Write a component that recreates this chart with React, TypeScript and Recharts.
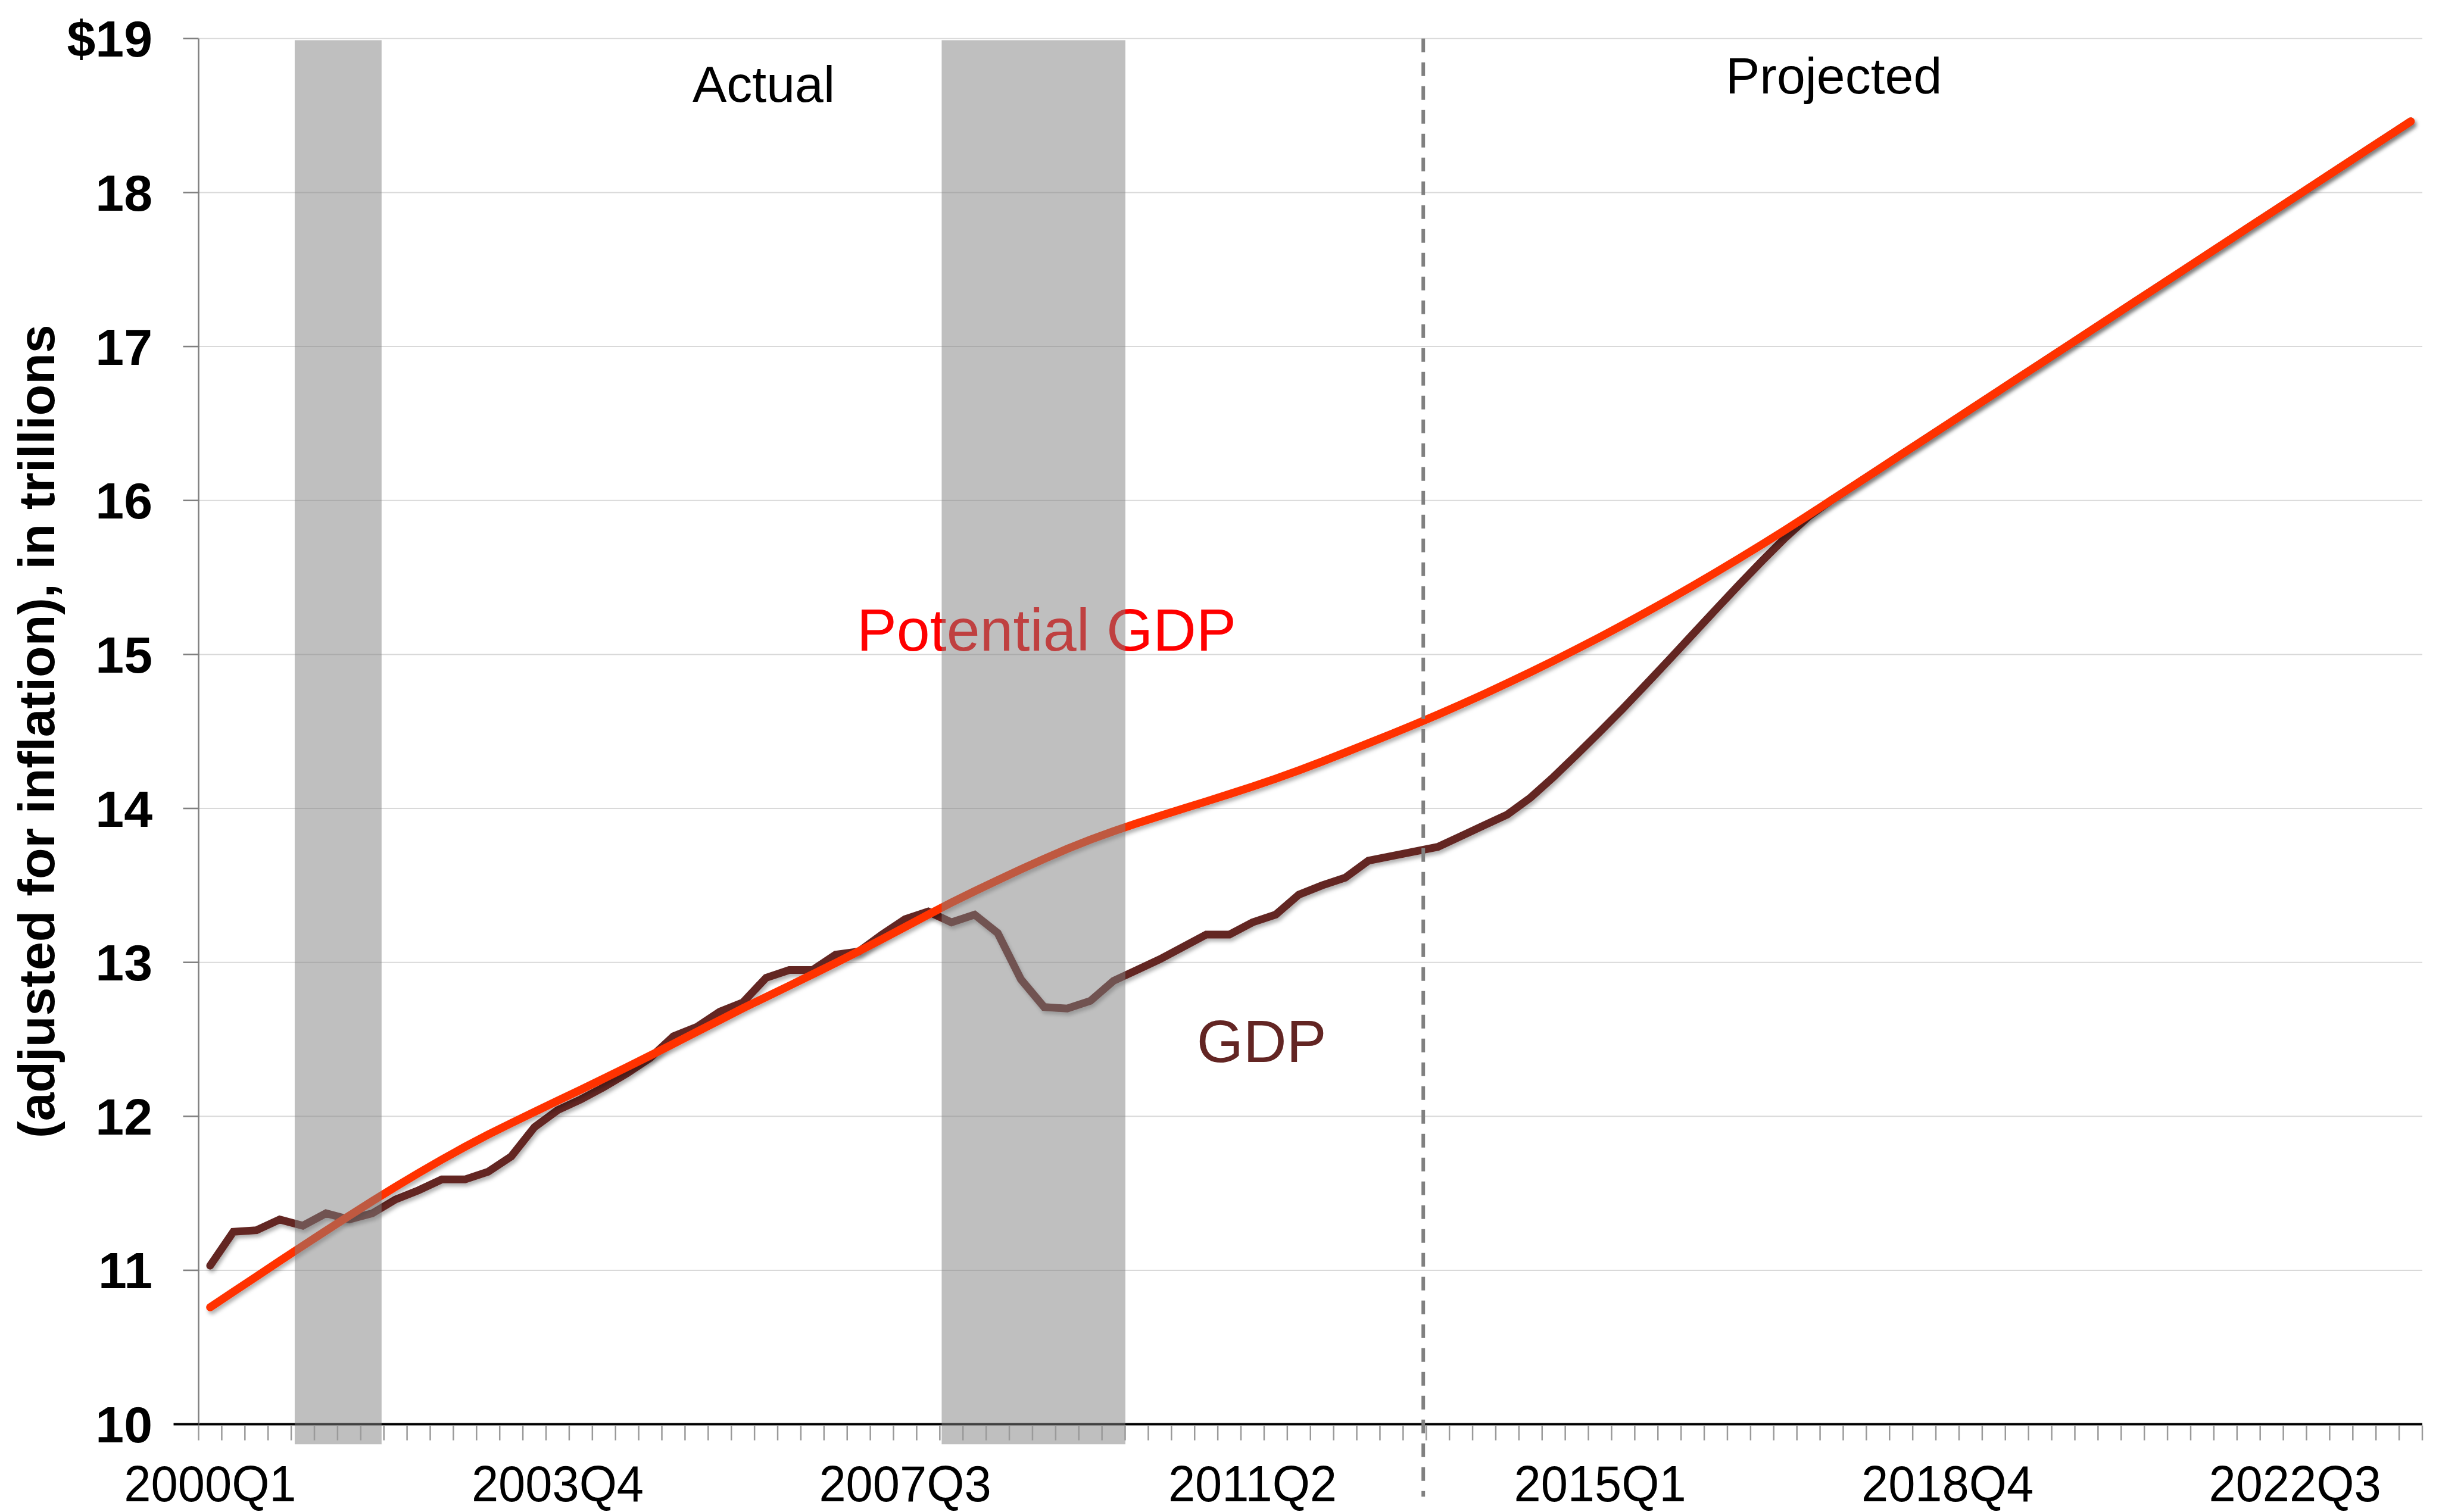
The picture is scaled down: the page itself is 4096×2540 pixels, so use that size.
import React from "react";
import { LineChart, Line, XAxis, YAxis, CartesianGrid, ReferenceArea, ReferenceLine } from "recharts";

const FONT = '"Liberation Sans", Arial, Helvetica, sans-serif';

const YEARS = [2000, 2001, 2002, 2003, 2004, 2005, 2006, 2007, 2008, 2009, 2010, 2011, 2012, 2013, 2014, 2015, 2016, 2017, 2018, 2019, 2020, 2021, 2022, 2023];
const QUARTERS: string[] = [];
YEARS.forEach((y) => ["Q1", "Q2", "Q3", "Q4"].forEach((q) => QUARTERS.push(`${y}${q}`)));

// Real GDP, $ trillions (actual through 2013Q1, projected after)
const GDP = [
  11.03, 11.25, 11.26, 11.33, 11.29, 11.37, 11.33, 11.37, 11.46, 11.52, 11.59, 11.59,
  11.64, 11.74, 11.93, 12.04, 12.11, 12.19, 12.28, 12.38, 12.52, 12.58, 12.68, 12.74,
  12.9, 12.95, 12.95, 13.05, 13.07, 13.18, 13.28, 13.33, 13.26, 13.31, 13.19, 12.89,
  12.71, 12.7, 12.75, 12.88, 12.95, 13.02, 13.1, 13.18, 13.18, 13.26, 13.31, 13.44,
  13.5, 13.55, 13.66, 13.69, 13.72, 13.75, 13.82, 13.89, 13.96, 14.07, 14.205, 14.35,
  14.498, 14.65, 14.808, 14.968, 15.13, 15.292, 15.452, 15.608, 15.758, 15.895, 16.003, 16.101,
  16.199, 16.298, 16.396, 16.494, 16.593, 16.691, 16.79, 16.888, 16.986, 17.085, 17.183, 17.282,
  17.38, 17.478, 17.577, 17.675, 17.774, 17.872, 17.97, 18.069, 18.167, 18.266, 18.364, 18.462,
];

// Potential GDP, $ trillions
const POTENTIAL = [
  10.76, 10.86, 10.96, 11.06, 11.159, 11.257, 11.354, 11.449, 11.542, 11.632, 11.719, 11.802,
  11.881, 11.956, 12.029, 12.101, 12.173, 12.246, 12.32, 12.395, 12.471, 12.548, 12.625, 12.702,
  12.775, 12.848, 12.922, 12.996, 13.072, 13.15, 13.23, 13.31, 13.388, 13.462, 13.534, 13.604,
  13.672, 13.737, 13.797, 13.852, 13.903, 13.951, 13.998, 14.045, 14.093, 14.142, 14.193, 14.247,
  14.304, 14.363, 14.423, 14.483, 14.545, 14.609, 14.675, 14.743, 14.813, 14.885, 14.959, 15.035,
  15.113, 15.193, 15.275, 15.359, 15.445, 15.533, 15.623, 15.715, 15.809, 15.905, 16.003, 16.101,
  16.199, 16.298, 16.396, 16.494, 16.593, 16.691, 16.79, 16.888, 16.986, 17.085, 17.183, 17.282,
  17.38, 17.478, 17.577, 17.675, 17.774, 17.872, 17.97, 18.069, 18.167, 18.266, 18.364, 18.462,
];

// label ticks (quarter index) and y ticks
const X_LABEL_TICKS = [0, 15, 30, 45, 60, 75, 90];
const X_MINOR_TICKS: number[] = [];
for (let i = 0; i <= QUARTERS.length; i++) X_MINOR_TICKS.push(i - 0.5);
const Y_TICKS = [10, 11, 12, 13, 14, 15, 16, 17, 18, 19];

// recession shading, in quarter-index units
const RECESSIONS = [
  { from: 3.65, to: 7.4 },
  { from: 31.58, to: 39.51 },
];
const PROJECTION_START = 52.37;

const data = QUARTERS.map((q, i) => ({ idx: i, quarter: q, gdp: GDP[i], potential: POTENTIAL[i] }));

const XTick = (props: any) => {
  const { x, y, payload } = props;
  const v = payload.value;
  if (Number.isInteger(v)) {
    return (
      <text
        transform={`translate(${x},${y + 129}) scale(0.945,1)`}
        textAnchor="middle"
        fontSize={86}
        fontFamily={FONT}
        fill="#000"
      >
        {QUARTERS[v]}
      </text>
    );
  }
  return <line x1={x} x2={x} y1={y + 2} y2={y + 27} stroke="#9a9a9a" strokeWidth={2.5} />;
};

const YTick = (props: any) => {
  const { x, y, payload } = props;
  const v = payload.value;
  const isBase = v === 10;
  return (
    <g>
      <line
        x1={x - (isBase ? 42 : 26)}
        x2={x}
        y1={y}
        y2={y}
        stroke={isBase ? "#000" : "#808080"}
        strokeWidth={isBase ? 4 : 2.6}
      />
      <text
        x={x - 77.5}
        y={y}
        dy="0.355em"
        textAnchor="end"
        fontSize={86}
        fontWeight="bold"
        fontFamily={FONT}
        fill="#000"
      >
        {v === 19 ? "$19" : String(v)}
      </text>
    </g>
  );
};

export default function App() {
  return (
    <div style={{ position: "absolute", left: 0, top: 0, width: 4096, height: 2540, background: "#fff" }}>
      <LineChart
        width={4096}
        height={2540}
        data={data}
        margin={{ top: 64.8, right: 28, left: 133.5, bottom: 27.4 }}
      >
        <defs>
          <filter id="lineShadow" x="-2%" y="-2%" width="104%" height="106%">
            <feDropShadow dx="3" dy="5" stdDeviation="3" floodColor="#000" floodOpacity="0.3" />
          </filter>
        </defs>
        <CartesianGrid horizontal vertical={false} stroke="#d9d9d9" strokeWidth={2} />
        <XAxis
          dataKey="idx"
          type="number"
          domain={[-0.5, 95.5]}
          ticks={[...X_MINOR_TICKS, ...X_LABEL_TICKS]}
          interval={0}
          tick={<XTick />}
          tickLine={false}
          tickSize={0}
          tickMargin={0}
          height={120}
          axisLine={{ stroke: "#000", strokeWidth: 4 }}
        />
        <YAxis
          type="number"
          domain={[10, 19]}
          ticks={Y_TICKS}
          interval={0}
          tick={<YTick />}
          tickLine={false}
          tickSize={0}
          tickMargin={0}
          width={200}
          axisLine={{ stroke: "#808080", strokeWidth: 2.6 }}
        />
        <text
          transform="translate(91.4,1228.7) rotate(-90)"
          textAnchor="middle"
          fontSize={86}
          fontWeight="bold"
          fontFamily={FONT}
          fill="#000"
        >
          (adjusted for inflation), in trillions
        </text>
        <text x={1282.5} y={171} textAnchor="middle" fontSize={86} fontFamily={FONT} fill="#000">
          Actual
        </text>
        <text x={3079.6} y={156.7} textAnchor="middle" fontSize={86} fontFamily={FONT} fill="#000">
          Projected
        </text>
        <text x={1438.7} y={1092.6} fontSize={100.6} fontFamily={FONT} fill="#ff0000">
          Potential GDP
        </text>
        <text x={2009.7} y={1784} fontSize={100.6} fontFamily={FONT} fill="#632523">
          GDP
        </text>
        <Line
          dataKey="gdp"
          type="linear"
          stroke="#632523"
          strokeWidth={13}
          strokeLinecap="round"
          filter="url(#lineShadow)"
          dot={false}
          activeDot={false}
          isAnimationActive={false}
          zIndex={-10}
        />
        <Line
          dataKey="potential"
          type="linear"
          stroke="#ff3300"
          strokeWidth={13.5}
          strokeLinecap="round"
          filter="url(#lineShadow)"
          dot={false}
          activeDot={false}
          isAnimationActive={false}
          zIndex={-9}
        />
        {RECESSIONS.map((r, i) => (
          <ReferenceArea
            key={i}
            x1={r.from}
            x2={r.to}
            y1={9.87}
            y2={18.99}
            fill="#7f7f7f"
            fillOpacity={0.5}
            stroke="none"
            ifOverflow="visible"
            zIndex={700}
          />
        ))}
        <ReferenceLine
          segment={[
            { x: PROJECTION_START, y: 19 },
            { x: PROJECTION_START, y: 9.53 },
          ]}
          stroke="#808080"
          strokeWidth={6}
          strokeDasharray="23 17"
          ifOverflow="visible"
          zIndex={800}
        />
      </LineChart>
    </div>
  );
}
